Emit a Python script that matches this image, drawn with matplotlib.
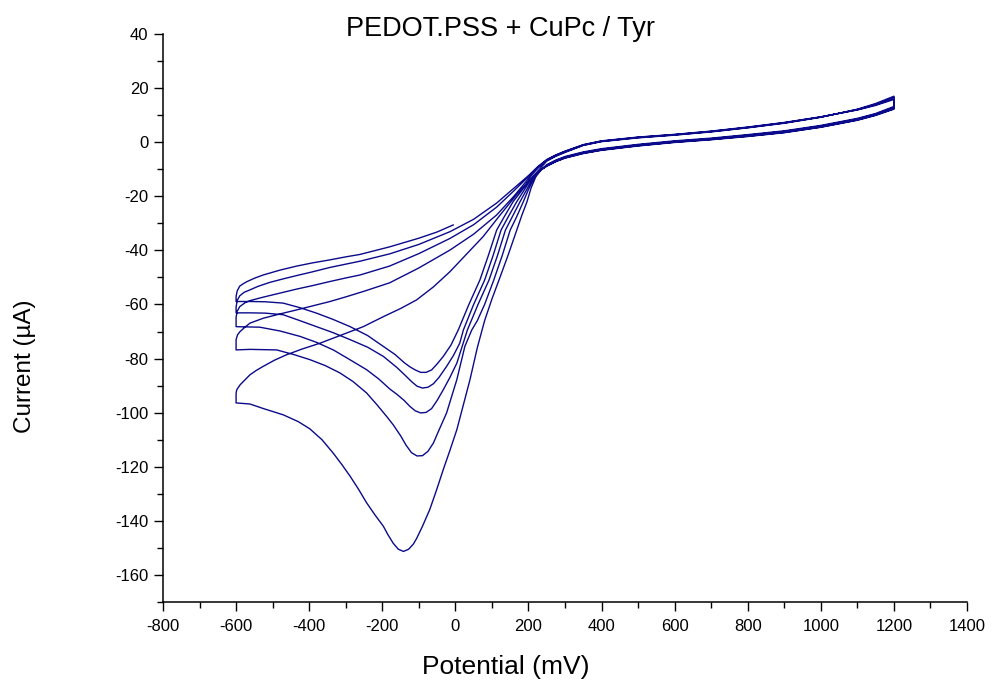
import numpy as np
import matplotlib
matplotlib.use("Agg")
import matplotlib.pyplot as plt
from matplotlib.ticker import MultipleLocator

plt.rcParams['font.family'] = ['Liberation Sans', 'DejaVu Sans']
plt.rcParams['axes.unicode_minus'] = False

# potentials (mV) shared by the oxidation part of every sweep
hi_mv = [250, 275, 300, 350, 400, 500, 600, 700, 800, 900, 1000, 1100, 1150, 1200]

# cathodic sweeps, 1200 -> 250 mV part (read in reverse order of hi_mv)
c1_hi = [13.2, 10.6, 8.8, 6.2, 4.2, 2.8, 1.5, 0.5, -0.8, -2.4, -3.6, -5.3, -6.6, -8.3]
c2_hi = [12.9, 10.4, 8.6, 6.0, 4.0, 2.6, 1.3, 0.3, -1.0, -2.6, -3.8, -5.5, -6.8, -8.5]
c3_hi = [12.6, 10.2, 8.4, 5.8, 3.8, 2.4, 1.1, 0.1, -1.2, -2.8, -4.0, -5.7, -7.0, -8.7]
c4_hi = [12.4, 10.0, 8.2, 5.6, 3.6, 2.2, 1.0, 0.0, -1.3, -2.9, -4.1, -5.8, -7.1, -8.8]
c5_hi = [12.2, 9.9, 8.1, 5.5, 3.5, 2.1, 0.9, -0.1, -1.4, -3.0, -4.2, -5.9, -7.2, -8.9]

# cathodic sweeps, reduction part down to -600 mV
c1_mv = [235, 220, 207, 196, 182, 168, 145, 122, 100, 80, 60, 40, 22, 4, -15, -33, -52, -70,
         -90, -106, -115, -128, -142, -156, -170, -185, -197, -220, -243, -265, -288, -310,
         -334, -365, -398, -430, -471, -525, -562, -600]
c1_ua = [-10.2, -12.8, -17, -22, -27, -32.5, -41.5, -50, -58, -66, -76, -87.8, -97, -106.3,
         -114, -121, -128.8, -135.8, -142, -146.5, -148.6, -150.5, -151.3, -150.5, -148.3,
         -145, -142, -137.8, -133.3, -128.3, -123.5, -119.3, -115, -110, -106, -103.3, -100.8,
         -98.5, -96.8, -96.4]
c2_mv = [232, 216, 200, 186, 168, 150, 128, 105, 80, 60, 45, 26, 4, -24, -45, -60, -75, -90,
         -105, -120, -135, -150, -170, -188, -215, -243, -280, -316, -356, -398, -440, -489,
         -562, -600]
c2_ua = [-10.4, -13, -17.5, -22, -27.5, -32.5, -42, -51, -60, -66, -69.4, -75.5, -87.8,
         -100.1, -106.5, -111.2, -114.3, -115.9, -116, -114.8, -112, -108.5, -104.5, -101.4,
         -97, -92.7, -88.5, -85.3, -82.6, -80.4, -78.6, -76.8, -76.6, -76.8]
c3_mv = [230, 212, 194, 177, 156, 137, 115, 92, 62, 33, 4, -15, -33, -50, -65, -80, -95,
         -110, -125, -140, -160, -179, -210, -243, -290, -334, -380, -425, -480, -535, -600]
c3_ua = [-10.6, -13.2, -17.8, -22, -27.5, -32.5, -42, -51, -60, -69.4, -81.7, -87, -91.5,
         -95.5, -98.5, -99.9, -100.1, -99.3, -97.6, -95.5, -93.2, -91.3, -87.5, -84.1, -80.3,
         -76.8, -74, -71.8, -69.8, -68.4, -68.2]
c4_mv = [228, 207, 187, 168, 145, 125, 103, 80, 50, 22, 12, -5, -24, -45, -60, -75, -90,
         -105, -120, -135, -160, -197, -240, -288, -335, -380, -425, -471, -520, -560, -600]
c4_ua = [-10.8, -13.5, -18, -22, -27.5, -32.5, -42, -51, -60, -69.4, -74.3, -78.8, -82.9,
         -87, -89.3, -90.6, -90.9, -90.2, -88.5, -86.5, -83.3, -79.2, -75.8, -73, -70.4,
         -68.2, -66, -63.8, -63.2, -63.1, -63.1]
c5_mv = [226, 203, 180, 158, 134, 113, 90, 67, 37, 8, -12, -33, -50, -65, -80, -95, -110,
         -125, -140, -165, -197, -240, -288, -335, -380, -425, -471, -520, -560, -600]
c5_ua = [-11, -13.8, -18.2, -22, -27.5, -32.5, -42, -51, -60, -69.4, -75, -79.2, -82,
         -84.2, -85.1, -85.1, -84.2, -83, -81.5, -78.5, -75.5, -71.5, -68.2, -65.5, -63.2,
         -61.2, -59.5, -59, -58.9, -58.9]

# anodic sweeps from -600 mV up to ~225 mV
a1_mv = [-600, -598, -589, -575, -562, -545, -526, -495, -462, -420, -370, -310, -252,
         -197, -150, -106, -60, -15, 30, 76, 122, 170, 205, 230]
a1_ua = [-92.7, -91.5, -89.7, -87.8, -86, -84.4, -82.9, -80.6, -78.6, -76.5, -74.3, -71.2,
         -68.2, -64.5, -61.5, -58.3, -53.5, -47.9, -41.5, -34.9, -27, -19, -13.8, -10]
a2_mv = [-600, -596, -589, -575, -562, -526, -480, -434, -390, -343, -300, -252, -180,
         -100, -15, 50, 113, 160, 198, 226]
a2_ua = [-73.0, -71.2, -70, -68.3, -66.9, -65.1, -63.5, -62, -60.5, -58.9, -57.2, -55.2,
         -52, -46.5, -39.9, -34, -26.9, -20, -13.8, -9.6]
a3_mv = [-600, -597, -590, -575, -560, -526, -480, -434, -390, -343, -300, -261, -180,
         -100, -15, 50, 113, 160, 198, 225]
a3_ua = [-64.7, -62.5, -60.8, -59.3, -58.5, -57.3, -55.8, -54.3, -53, -51.5, -50.2, -49.1,
         -45.8, -41.2, -35.6, -30.5, -24, -18, -13, -9.3]
a4_mv = [-600, -597, -590, -578, -562, -540, -507, -470, -434, -390, -343, -300, -261,
         -180, -100, -15, 50, 113, 160, 198, 225]
a4_ua = [-61.0, -58.5, -56.8, -55.5, -54.6, -53.3, -51.8, -50.5, -49.3, -47.9, -46.3,
         -45.1, -44, -41.3, -37.8, -33.1, -28.5, -22.5, -17, -12.6, -9.1]
a5_mv = [-600, -597, -590, -580, -571, -550, -526, -480, -434, -390, -343, -300, -261,
         -180, -100, -50, -6]
a5_ua = [-57.0, -55.0, -53.2, -52.3, -51.6, -50.3, -49.1, -47.3, -45.8, -44.6, -43.5,
         -42.4, -41.5, -38.7, -35.5, -33.2, -30.6]

# anodic sweeps, oxidation part 250 -> 1200 mV
a1_hi = [-7.0, -5.2, -3.8, -1.2, 0.2, 1.6, 2.6, 3.8, 5.3, 7.0, 9.2, 12.2, 14.3, 17.0]
a2_hi = [-6.8, -5.0, -3.6, -1.1, 0.3, 1.7, 2.7, 3.9, 5.4, 7.1, 9.3, 12.1, 14.0, 16.6]
a3_hi = [-6.6, -4.8, -3.4, -1.0, 0.4, 1.8, 2.8, 4.0, 5.5, 7.2, 9.3, 12.0, 13.8, 16.2]
a4_hi = [-6.4, -4.7, -3.3, -0.9, 0.5, 1.9, 2.9, 4.1, 5.6, 7.3, 9.4, 11.9, 13.6, 15.8]

hi_rev = hi_mv[::-1]
x = np.concatenate([hi_rev, c1_mv, a1_mv, hi_mv,
                    hi_rev, c2_mv, a2_mv, hi_mv,
                    hi_rev, c3_mv, a3_mv, hi_mv,
                    hi_rev, c4_mv, a4_mv, hi_mv,
                    hi_rev, c5_mv, a5_mv])
y = np.concatenate([c1_hi, c1_ua, a1_ua, a1_hi,
                    c2_hi, c2_ua, a2_ua, a2_hi,
                    c3_hi, c3_ua, a3_ua, a3_hi,
                    c4_hi, c4_ua, a4_ua, a4_hi,
                    c5_hi, c5_ua, a5_ua])

fig = plt.figure(figsize=(9.94, 6.84), dpi=100)
ax = fig.add_axes([163 / 994, 1 - 602 / 684, (967 - 163) / 994, (602 - 34) / 684])
ax.plot(x, y, color='#0a0a8a', lw=1.0, solid_joinstyle='round')

ax.set_xlim(-800, 1400)
ax.set_ylim(-170, 40)
ax.xaxis.set_major_locator(MultipleLocator(200))
ax.xaxis.set_minor_locator(MultipleLocator(100))
ax.set_yticks(np.arange(-160, 41, 20))
ax.yaxis.set_minor_locator(MultipleLocator(10))

for s in ['top', 'right']:
    ax.spines[s].set_visible(False)
for s in ['left', 'bottom']:
    ax.spines[s].set_linewidth(1.1)

ax.tick_params(which='major', direction='out', length=6.5, width=1.0, labelsize=12)
ax.tick_params(which='minor', direction='out', length=4, width=1.0)
ax.tick_params(axis='x', which='major', pad=6)
ax.tick_params(axis='y', which='major', pad=4)

fig.text(501 / 994, 1 - 29 / 684, 'PEDOT.PSS + CuPc / Tyr', ha='center', va='center', fontsize=19.5)
fig.text(506 / 994, 1 - 667 / 684, 'Potential (mV)', ha='center', va='center', fontsize=19)
fig.text(25 / 994, 1 - 366 / 684, 'Current (µA)', ha='center', va='center', rotation=90, fontsize=17.5)

fig.savefig('out.png', dpi=100)
